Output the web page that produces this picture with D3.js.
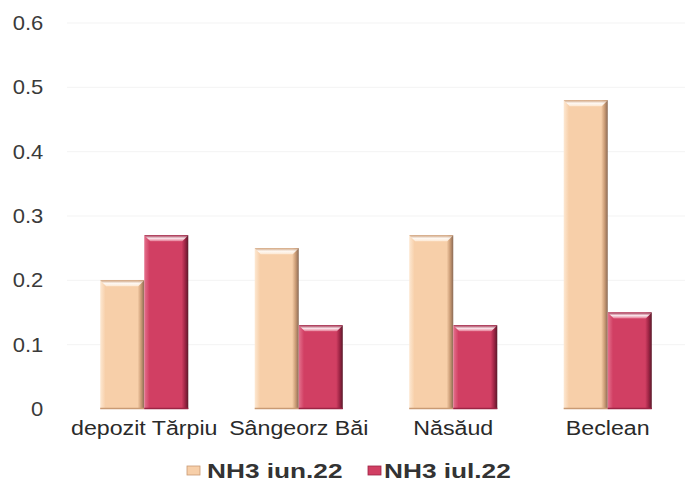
<!DOCTYPE html>
<html><head><meta charset="utf-8">
<script src="https://cdn.jsdelivr.net/npm/d3@7"></script>
<style>body{margin:0;background:#fff}svg{display:block}text{font-family:"Liberation Sans",Arial,sans-serif}</style>
</head><body>
<svg id="c" width="695" height="483"></svg>
<script>
const categories = ["depozit Tărpiu", "Sângeorz Băi", "Năsăud", "Beclean"];
const seriesNames = ["NH3 iun.22", "NH3 iul.22"];
const iun22 = [0.20, 0.25, 0.27, 0.48];
const iul22 = [0.27, 0.13, 0.13, 0.15];
const yTicks = [0, 0.1, 0.2, 0.3, 0.4, 0.5, 0.6];

const svg = d3.select("#c");
const W = 695, H = 483;
const m = {left: 67, right: 10, top: 23, bottom: 74};
const x = d3.scaleBand().domain(categories).range([m.left, W - m.right]).paddingInner(0.43).paddingOuter(0.215);
const xs = d3.scaleBand().domain(seriesNames).range([0, x.bandwidth()]).padding(0);
const y = d3.scaleLinear().domain([0, 0.6]).range([H - m.bottom, m.top]);

const defs = svg.append("defs");
const cols = [
  {base:"#f7cfa9", light:"#fde8d2", dark:"#c99a74", edge:"#8a6a55"},
  {base:"#d13f63", light:"#e4718d", dark:"#9c2444", edge:"#5a1a2a"}
];
cols.forEach((c,i)=>{
  const g = defs.append("linearGradient").attr("id","h"+i).attr("x1","0").attr("x2","1").attr("y1","0").attr("y2","0");
  g.append("stop").attr("offset","0").attr("stop-color",c.light);
  g.append("stop").attr("offset","0.12").attr("stop-color",c.base);
  g.append("stop").attr("offset","0.85").attr("stop-color",c.base);
  g.append("stop").attr("offset","0.93").attr("stop-color",c.dark);
  g.append("stop").attr("offset","1").attr("stop-color",c.edge);
  const t = defs.append("linearGradient").attr("id","t"+i).attr("x1","0").attr("x2","0").attr("y1","0").attr("y2","1");
  t.append("stop").attr("offset","0").attr("stop-color",c.dark);
  t.append("stop").attr("offset","0.5").attr("stop-color","#fff").attr("stop-opacity",0.85);
  t.append("stop").attr("offset","1").attr("stop-color",c.light);
});

// grid
svg.append("g").selectAll("line").data(yTicks.slice(1)).join("line")
  .attr("x1", m.left).attr("x2", W - m.right)
  .attr("y1", d=>y(d)).attr("y2", d=>y(d))
  .attr("stroke","#f3f3f3").attr("stroke-width",1);

// y axis
const ya = svg.append("g").attr("transform",`translate(${m.left},0)`)
  .call(d3.axisLeft(y).tickValues(yTicks).tickSize(0).tickPadding(21.5).tickFormat(d=>d===0?"0":d3.format(".1f")(d)));
ya.select(".domain").remove();
ya.selectAll("text").attr("font-size",20).attr("fill","#3a3a3a").attr("transform","scale(1.1,1)");

// x axis
const xa = svg.append("g").attr("transform",`translate(0,${y(0)})`)
  .call(d3.axisBottom(x).tickSize(0).tickPadding(12));
xa.select(".domain").remove();
xa.selectAll("text").attr("font-size",20).attr("fill","#2a2a2a").attr("transform","scale(1.16,1)");

// bars
const data = categories.map((c,i)=>({c, vals:[iun22[i], iul22[i]]}));
const grp = svg.append("g").selectAll("g").data(data).join("g")
  .attr("transform", d=>`translate(${x(d.c)},0)`);
grp.each(function(d){
  const g = d3.select(this);
  d.vals.forEach((v,i)=>{
    const bx = xs(seriesNames[i]), bw = xs.bandwidth();
    const top = y(v), bot = y(0);
    g.append("rect").attr("x",bx).attr("y",top).attr("width",bw).attr("height",bot-top).attr("fill",`url(#h${i})`);
    const bv = 6;
    g.append("path").attr("d",`M${bx},${top}L${bx+bw},${top}L${bx+bw-bv},${top+bv}L${bx+bv},${top+bv}Z`).attr("fill",`url(#t${i})`);
    g.append("line").attr("x1",bx).attr("x2",bx+bw).attr("y1",bot-0.5).attr("y2",bot-0.5).attr("stroke",cols[i].dark).attr("stroke-width",1.5);
  });
});

// legend
const items = [{x:187, tx:207, name:seriesNames[0]}, {x:368, tx:384, name:seriesNames[1]}];
items.forEach((it,i)=>{
  svg.append("rect").attr("x",it.x).attr("y",466).attr("width",13).attr("height",9).attr("fill",cols[i].base).attr("stroke",cols[i].dark).attr("stroke-width",0.8);
  svg.append("text").attr("transform",`translate(${it.tx},470.5) scale(1.28,1)`).attr("dy","0.35em")
    .attr("font-size",20.5).attr("font-weight","bold").attr("fill","#333").text(it.name);
});
</script>
</body></html>
